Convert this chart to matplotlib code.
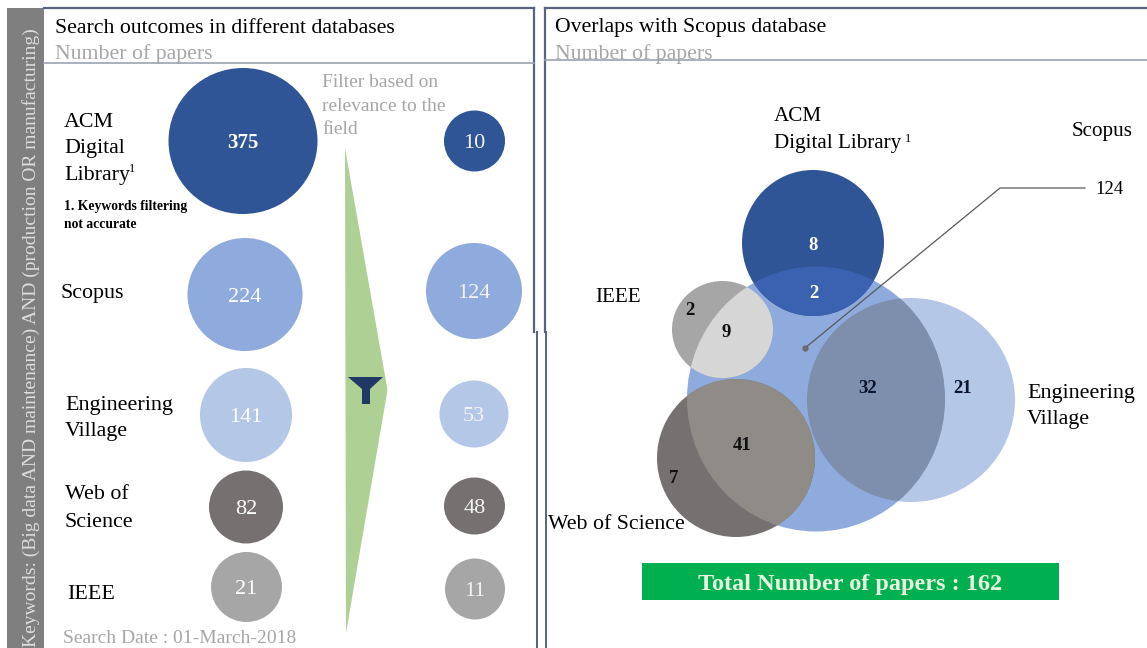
import matplotlib.pyplot as plt
from matplotlib.patches import Ellipse, Polygon, Rectangle

plt.rcParams['font.family'] = ['Liberation Serif', 'DejaVu Serif']

# Papers found per database, before and after the relevance filter
databases = ['ACM', 'Scopus', 'Engineering Village', 'Web of Science', 'IEEE']
found = [375, 224, 141, 82, 21]
filtered = [10, 124, 53, 48, 11]

# Venn regions
acm_overlap = [8, 2]
ieee_overlap = [2, 9]
ev_overlap = [32, 21]
wos_overlap = [41, 7]
scopus_total = 124
total_papers = 162
search_date = '01-March-2018'

colors = ['#2F5597', '#8FAADC', '#B4C7E7', '#767171', '#A6A6A6']
border = '#56647C'
grey_text = '#A6A6A6'

# bubble layout in pixels (x, y, width, height)
found_boxes = [(243, 141, 149, 146), (245, 294.5, 115, 113), (246, 415, 92, 94),
               (246, 507, 74, 73), (246.5, 587, 71, 70)]
filtered_boxes = [(474.5, 141, 61, 61), (474, 291, 96, 96), (474, 414, 69, 67),
                  (474.5, 506, 61, 57), (475, 589, 60, 61)]

fig = plt.figure(figsize=(11.47, 6.48), dpi=100)
ax = fig.add_axes([0, 0, 1, 1])
ax.set_xlim(0, 1147)
ax.set_ylim(648, 0)
ax.axis('off')


def bubble(box, color, z=2):
    e = Ellipse((box[0], box[1]), box[2], box[3], facecolor=color, edgecolor='none', zorder=z)
    ax.add_patch(e)
    return e


def label(x, y, s, size=15.8, color='black', ha='left', **kw):
    # text sits a bit low in the reference, so nudge everything down
    ax.text(x, y + 2.5, s, fontsize=size, color=color, ha=ha, va='center', zorder=10, **kw)


# panels
ax.add_patch(Rectangle((7, 8), 37, 640, facecolor='#7F7F7F', edgecolor='none'))
ax.text(31, 338, 'Keywords: (Big data AND maintenance) AND (production OR manufacturing)',
        rotation=90, fontsize=14, color='#DDDDDD', ha='center', va='center', zorder=10)
ax.plot([44, 534], [8, 8], color=border, lw=1.6)
ax.plot([534, 534], [8, 332], color=border, lw=1.6)
ax.plot([537, 537], [332, 648], color=border, lw=1.4)
ax.plot([44, 534], [63, 63], color='#9AA3B0', lw=1.2)
ax.plot([545, 1147], [8, 8], color=border, lw=1.6)
ax.plot([545, 545], [8, 332], color=border, lw=1.6)
ax.plot([546, 546], [332, 648], color=border, lw=1.4)
ax.plot([545, 1147], [60, 60], color='#9AA3B0', lw=1.2)

label(55, 26, 'Search outcomes in different databases', 15.7)
label(55, 52, 'Number of papers', 15.7, grey_text)
label(555, 25, 'Overlaps with Scopus database', 15.7)
label(555, 52, 'Number of papers', 15.7, grey_text)

# left panel: bubbles
for i in range(len(databases)):
    bubble(found_boxes[i], colors[i])
    bubble(filtered_boxes[i], colors[i])
    label(found_boxes[i][0], found_boxes[i][1], str(found[i]), 15 if i == 0 else 16, 'white', ha='center',
          fontweight='bold' if i == 0 else 'normal')
    label(filtered_boxes[i][0], filtered_boxes[i][1], str(filtered[i]), 16, '#F2F2F2', ha='center')

label(64, 120, 'ACM')
label(64, 146, 'Digital')
label(64, 173, 'Library')
label(129, 167, '1', 9)
label(64, 204, '1. Keywords filtering', 9.8, fontweight='bold')
label(64, 222, 'not accurate', 9.8, fontweight='bold')
label(61, 291, 'Scopus')
label(65, 403, 'Engineering')
label(65, 429, 'Village')
label(65, 492, 'Web of')
label(65, 520, 'Science')
label(67, 592, 'IEEE')
label(63, 636, 'Search Date : ' + search_date, 14, grey_text)

label(322, 80, 'Filter based on', 14, grey_text)
label(322, 104, 'relevance to the', 14, grey_text)
label(322, 127, 'field', 14, grey_text)

# filter arrow and funnel icon
ax.add_patch(Polygon([(345, 148), (387.5, 390), (346, 633)], facecolor='#AFD095', edgecolor='none', zorder=2))
ax.add_patch(Polygon([(348, 377), (383, 377), (370, 389), (370, 404), (362, 404), (362, 389)],
                     facecolor='#1F3864', edgecolor='none', zorder=3))

# right panel: venn diagram
scopus_box = (816, 399, 258, 265)
ev_box = (911, 400, 208, 204)
acm_box = (813, 243, 142, 146)
ieee_box = (722.5, 329.5, 101, 97)
wos_box = (736, 458, 158, 158)

scopus = bubble(scopus_box, colors[1], 2)
bubble(ev_box, colors[2], 1.5)
bubble(ev_box, '#7D8FAD', 3).set_clip_path(scopus)
bubble(acm_box, colors[0], 3)
bubble(acm_box, '#3A62B0', 4).set_clip_path(scopus)
bubble(ieee_box, colors[4], 3)
bubble(ieee_box, '#D6D6D6', 4).set_clip_path(scopus)
bubble(wos_box, colors[3], 4)
bubble(wos_box, '#8F8B87', 5).set_clip_path(scopus)

label(813, 243, str(acm_overlap[0]), 13.5, 'white', ha='center', fontweight='bold')
label(814, 291, str(acm_overlap[1]), 13.5, 'white', ha='center', fontweight='bold')
label(690, 308, str(ieee_overlap[0]), 13.5, '#111111', ha='center', fontweight='bold')
label(726, 330, str(ieee_overlap[1]), 13.5, '#111111', ha='center', fontweight='bold')
label(868, 386, str(ev_overlap[0]), 13.5, '#0B1530', ha='center', fontweight='bold')
label(963, 386, str(ev_overlap[1]), 13.5, '#0B1530', ha='center', fontweight='bold')
label(742, 443, str(wos_overlap[0]), 13.5, '#111111', ha='center', fontweight='bold')
label(674, 476, str(wos_overlap[1]), 13.5, '#111111', ha='center', fontweight='bold')

# leader line to the Scopus only count
ax.plot([805, 1000, 1085], [348, 188, 188], color='#595959', lw=0.9, zorder=6)
ax.plot([805], [348], marker='o', ms=3.5, color='#6B6B6B', zorder=6)
label(1109, 187, str(scopus_total), 13.5, ha='center')

label(774, 114, 'ACM', 15.2)
label(774, 141, 'Digital Library', 15.2)
label(905, 136, '1', 9)
label(1072, 129, 'Scopus', 15.2)
label(595, 295, 'IEEE', 15.2)
label(1027, 391, 'Engineering', 15.8)
label(1027, 417, 'Village', 15.8)
label(548, 522, 'Web of Science', 15.7)

ax.add_patch(Rectangle((641.5, 563), 417.5, 37, facecolor='#00B050', edgecolor='none', zorder=3))
label(850, 582, 'Total Number of papers : ' + str(total_papers), 17.5, '#E8F5E0', ha='center', fontweight='bold')

fig.savefig('out.png', dpi=100)
